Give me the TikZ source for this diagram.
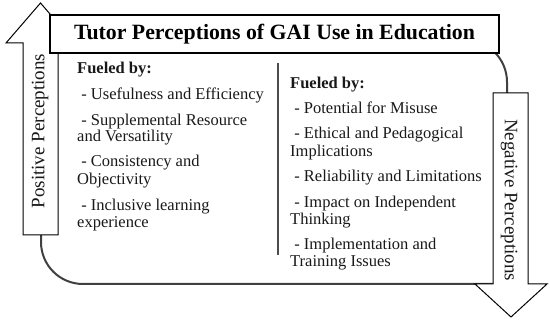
\documentclass[tikz,border=0pt]{standalone}
\usepackage{fontspec}
\setmainfont{Liberation Serif}
\begin{document}
\begin{tikzpicture}[x=1pt,y=-1pt,
  mainline/.style={draw=black!75, line width=2pt},
  arrowshape/.style={draw=black, line width=1pt, fill=white, line join=miter},
  titlebox/.style={draw=black, line width=1.6pt, fill=white, minimum width=449pt, minimum height=38pt, inner sep=0pt, font=\fontsize{21.8}{24}\selectfont\bfseries},
  txt/.style={anchor=base west, inner sep=0pt, font=\fontsize{16.5}{18}\selectfont, text=black!90},
  head/.style={txt, font=\fontsize{16.5}{18}\selectfont\bfseries},
  arrowtxt/.style={inner sep=0pt, font=\fontsize{19}{22}\selectfont, text=black!90},
  divider/.style={draw=black!70, line width=1.2pt}]
\useasboundingbox (0,0) rectangle (550,331);
% main frame: rounded top-right and bottom-left corners
\draw[mainline] (41,40) -- (465,40) arc[start angle=-90, end angle=0, radius=42]
  -- (507,284) -- (83,284) arc[start angle=90, end angle=180, radius=42] -- cycle;
% left (positive) arrow
\draw[arrowshape] (23,235) -- (23,43) -- (6,43) -- (40.5,3) -- (75,43) -- (58,43) -- (58,235) -- cycle;
% right (negative) arrow
\draw[arrowshape] (493,93) -- (528,93) -- (528,284) -- (547,284) -- (511,317) -- (475,284) -- (493,284) -- cycle;
% title
\node[titlebox] (title) at (274.5,34) {Tutor Perceptions of GAI Use in Education};
% arrow texts
\node[arrowtxt, rotate=90] (pos) at (40,131) {Positive Perceptions};
\node[arrowtxt, rotate=-90] (neg) at (509,200) {Negative Perceptions};
% divider
\coordinate (dtop) at (278,63);
\coordinate (dbot) at (278,255);
\draw[divider] (dtop) -- (dbot);
% left column
\node[head] (lh) at (77,74) {Fueled by:};
\node[txt] (l1) at (77,100) {\ - Usefulness and Efficiency};
\node[txt] (l2a) at (77,126) {\ - Supplemental Resource};
\node[txt] (l2b) at (77,142) {and Versatility};
\node[txt] (l3a) at (77,167) {\ - Consistency and};
\node[txt] (l3b) at (77,185) {Objectivity};
\node[txt] (l4a) at (77,211) {\ - Inclusive learning};
\node[txt] (l4b) at (77,228) {experience};
% right column
\node[head] (rh) at (290,89) {Fueled by:};
\node[txt] (r1) at (290,114) {\ - Potential for Misuse};
\node[txt] (r2a) at (290,139) {\ - Ethical and Pedagogical};
\node[txt] (r2b) at (290,157) {Implications};
\node[txt] (r3) at (290,182) {\ - Reliability and Limitations};
\node[txt] (r4a) at (290,208) {\ - Impact on Independent};
\node[txt] (r4b) at (290,225) {Thinking};
\node[txt] (r5a) at (290,250) {\ - Implementation and};
\node[txt] (r5b) at (290,267) {Training Issues};
\end{tikzpicture}
\end{document}
